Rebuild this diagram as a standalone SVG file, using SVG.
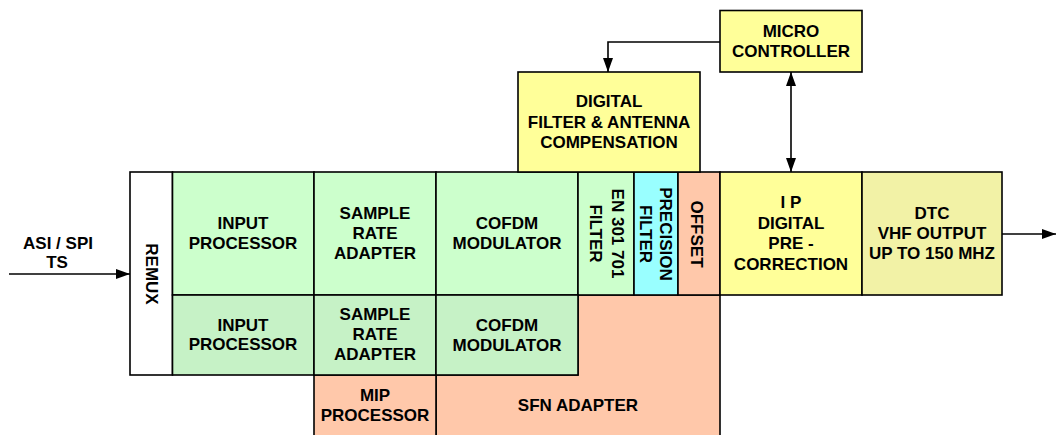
<svg xmlns="http://www.w3.org/2000/svg" width="1056" height="435" viewBox="0 0 1056 435">
  <style>
    .box { stroke: #000; stroke-width: 1.6; }
    .lbl { font-family: "Liberation Sans", Arial, sans-serif; font-weight: bold; font-size: 17px; fill: #000; text-anchor: middle; }
    .wire { stroke: #000; stroke-width: 1.6; fill: none; }
    .green { fill: #CCFFCC; }
    .green2 { fill: #C6F2C6; }
    .salmon { fill: #FFC8AA; }
    .yellow { fill: #FFFF99; }
    .khaki { fill: #F2F2A6; }
    .cyan { fill: #99FFFF; }
    .white { fill: #FFFFFF; }
  </style>
  <defs>
    <marker id="arrow" viewBox="0 0 14 10" refX="14" refY="5" markerWidth="14" markerHeight="10" markerUnits="userSpaceOnUse" orient="auto-start-reverse">
      <path d="M0,0 L14,5 L0,10 Z" fill="#000"/>
    </marker>
  </defs>

  <rect width="1056" height="435" fill="#FFFFFF"/>

  <!-- signal flow connectors -->
  <g id="connectors">
    <line class="wire" x1="9" y1="274" x2="130" y2="274" marker-end="url(#arrow)"/>
    <line class="wire" x1="1002" y1="234" x2="1056" y2="234" marker-end="url(#arrow)"/>
    <polyline class="wire" points="720,42 608,42 608,72" marker-end="url(#arrow)"/>
    <line class="wire" x1="791" y1="72" x2="791" y2="172" marker-start="url(#arrow)" marker-end="url(#arrow)"/>
  </g>

  <text class="lbl" x="58" y="249">ASI / SPI</text>
  <text class="lbl" x="57" y="268">TS</text>

  <g id="sfn-adapter">
    <polygon class="box salmon" points="578,295 720,295 720,436 436,436 436,375 578,375"/>
    <text class="lbl" x="578" y="411">SFN ADAPTER</text>
  </g>

  <g id="mip-processor">
    <rect class="box salmon" x="314" y="375" width="122" height="61"/>
    <text class="lbl" x="375" y="401">MIP</text>
    <text class="lbl" x="375" y="421">PROCESSOR</text>
  </g>

  <g id="remux">
    <rect class="box white" x="130" y="172" width="42.5" height="203"/>
    <text class="lbl" transform="translate(145.5,274) rotate(90)">REMUX</text>
  </g>

  <g id="input-processor-1">
    <rect class="box green" x="172.5" y="172" width="141.5" height="123"/>
    <text class="lbl" x="243" y="229">INPUT</text>
    <text class="lbl" x="243" y="249">PROCESSOR</text>
  </g>

  <g id="sample-rate-adapter-1">
    <rect class="box green" x="314" y="172" width="122" height="123"/>
    <text class="lbl" x="375" y="219">SAMPLE</text>
    <text class="lbl" x="375" y="239">RATE</text>
    <text class="lbl" x="375" y="259">ADAPTER</text>
  </g>

  <g id="cofdm-modulator-1">
    <rect class="box green" x="436" y="172" width="142" height="123"/>
    <text class="lbl" x="507" y="229">COFDM</text>
    <text class="lbl" x="507" y="249">MODULATOR</text>
  </g>

  <g id="en301701-filter">
    <rect class="box green" x="578" y="172" width="56" height="123"/>
    <text class="lbl" transform="translate(612,233.5) rotate(90)">EN 301 701</text>
    <text class="lbl" transform="translate(590,233.5) rotate(90)">FILTER</text>
  </g>

  <g id="precision-filter">
    <rect class="box cyan" x="634" y="172" width="44" height="123"/>
    <text class="lbl" transform="translate(660,234) rotate(90)">PRECISION</text>
    <text class="lbl" transform="translate(640,234) rotate(90)">FILTER</text>
  </g>

  <g id="offset">
    <rect class="box salmon" x="678" y="172" width="42" height="123"/>
    <text class="lbl" transform="translate(691,234) rotate(90)">OFFSET</text>
  </g>

  <g id="ip-predistortion">
    <rect class="box yellow" x="720" y="172" width="142" height="123"/>
    <text class="lbl" x="791" y="208">I P</text>
    <text class="lbl" x="791" y="228.5">DIGITAL</text>
    <text class="lbl" x="791" y="249">PRE -</text>
    <text class="lbl" x="791" y="270">CORRECTION</text>
  </g>

  <g id="dtc-output">
    <rect class="box khaki" x="862" y="172" width="140" height="123"/>
    <text class="lbl" x="932" y="219">DTC</text>
    <text class="lbl" x="932" y="239">VHF OUTPUT</text>
    <text class="lbl" x="932" y="259">UP TO 150 MHZ</text>
  </g>

  <g id="input-processor-2">
    <rect class="box green2" x="172.5" y="295" width="141.5" height="80"/>
    <text class="lbl" x="243" y="331">INPUT</text>
    <text class="lbl" x="243" y="350">PROCESSOR</text>
  </g>

  <g id="sample-rate-adapter-2">
    <rect class="box green2" x="314" y="295" width="122" height="80"/>
    <text class="lbl" x="375" y="320">SAMPLE</text>
    <text class="lbl" x="375" y="340">RATE</text>
    <text class="lbl" x="375" y="360">ADAPTER</text>
  </g>

  <g id="cofdm-modulator-2">
    <rect class="box green2" x="436" y="295" width="142" height="80"/>
    <text class="lbl" x="507" y="331">COFDM</text>
    <text class="lbl" x="507" y="351">MODULATOR</text>
  </g>

  <g id="digital-filter">
    <rect class="box yellow" x="518" y="72" width="182" height="100"/>
    <text class="lbl" x="609" y="107">DIGITAL</text>
    <text class="lbl" x="609" y="128">FILTER &amp; ANTENNA</text>
    <text class="lbl" x="609" y="148">COMPENSATION</text>
  </g>

  <g id="micro-controller">
    <rect class="box yellow" x="720" y="10.5" width="142" height="61.5"/>
    <text class="lbl" x="791" y="37">MICRO</text>
    <text class="lbl" x="791" y="57">CONTROLLER</text>
  </g>
</svg>
